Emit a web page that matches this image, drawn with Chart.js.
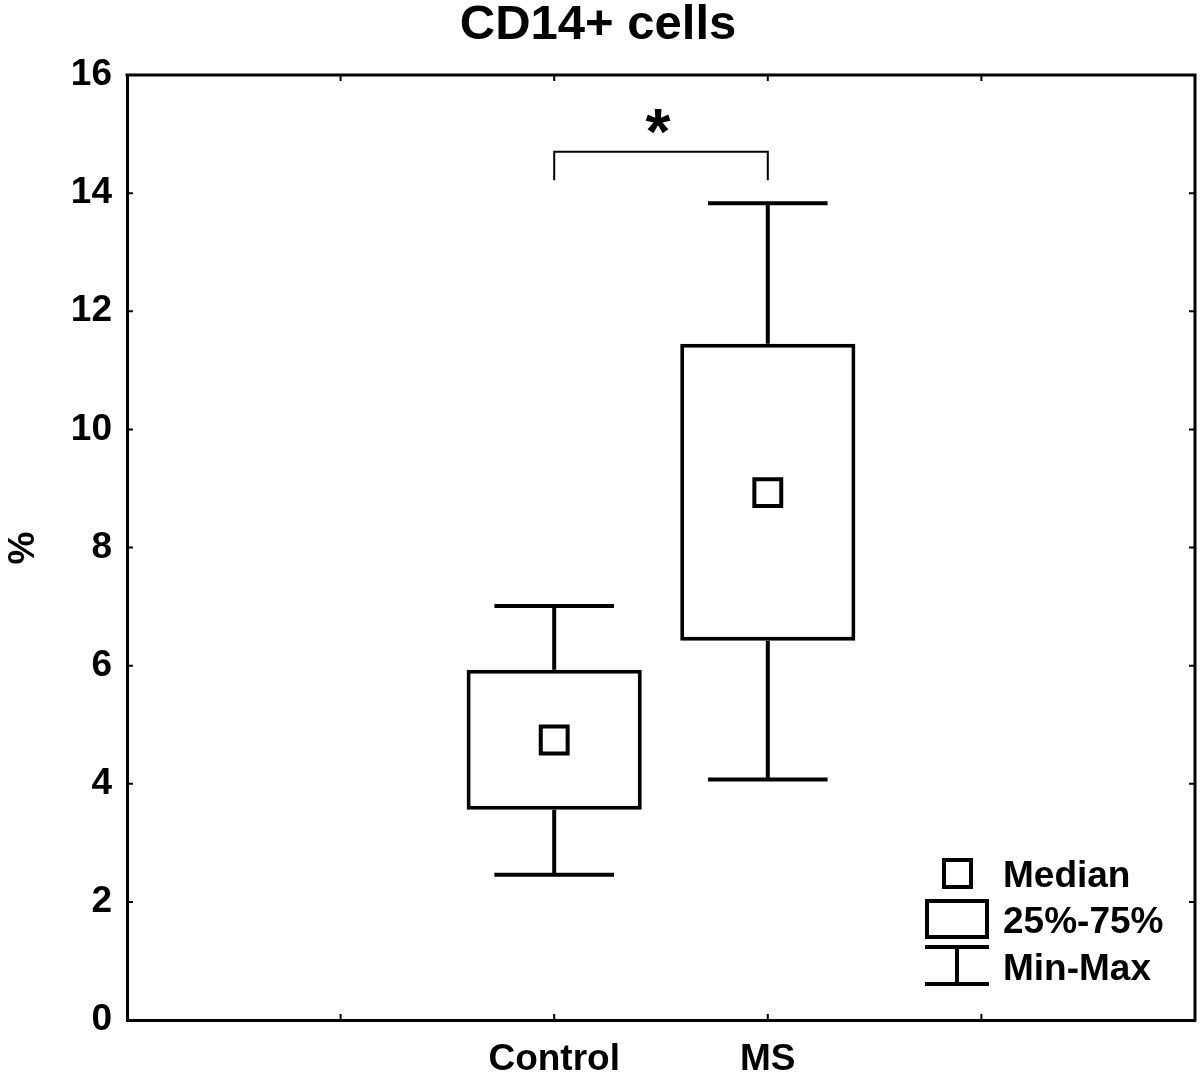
<!DOCTYPE html>
<html>
<head>
<meta charset="utf-8">
<script src="https://cdn.jsdelivr.net/npm/chart.js@4.4.1/dist/chart.umd.min.js"></script>
<style>
  html, body { margin: 0; padding: 0; background: #fff; }
  #wrap { width: 1200px; height: 1079px; }
</style>
</head>
<body>
<div id="wrap"><canvas id="chart" width="1200" height="1079"></canvas></div>
<script>
// box plot values (% CD14+ cells)
const groups = ['Control', 'MS'];
const groupPos = [2, 3];
const medians = [4.74, 8.93];
const q1 = [3.56, 6.42];
const q3 = [5.93, 11.45];
const mins = [2.46, 4.07];
const maxs = [7.01, 13.83];

// significance bracket between the two groups
const sigLevel = 14.7;
const sigDrop = 14.22;
const sigText = '*';

const legendItems = ['Median', '25%-75%', 'Min-Max'];

const FONT = '"Liberation Sans", Arial, Helvetica, sans-serif';
const CHART = document.getElementById('chart');

var boxData = groupPos.map(function (x, i) { return { x: x, y: [q1[i], q3[i]] }; });
var medianData = groupPos.map(function (x, i) { return { x: x, y: medians[i] }; });

const extras = {
  id: 'extras',
  beforeDatasetsDraw(chart) {
    const ctx = chart.ctx, xs = chart.scales.x, ys = chart.scales.y;
    ctx.save();
    ctx.strokeStyle = '#000';
    ctx.lineWidth = 4;
    ctx.lineCap = 'butt';
    for (let i = 0; i < groups.length; i++) {
      const cx = xs.getPixelForValue(groupPos[i]);
      const l = xs.getPixelForValue(groupPos[i] - 0.28);
      const r = xs.getPixelForValue(groupPos[i] + 0.28);
      const yMax = ys.getPixelForValue(maxs[i]);
      const yMin = ys.getPixelForValue(mins[i]);
      ctx.beginPath();
      ctx.moveTo(cx, yMax); ctx.lineTo(cx, ys.getPixelForValue(q3[i]));
      ctx.moveTo(cx, yMin); ctx.lineTo(cx, ys.getPixelForValue(q1[i]));
      ctx.moveTo(l, yMax); ctx.lineTo(r, yMax);
      ctx.moveTo(l, yMin); ctx.lineTo(r, yMin);
      ctx.stroke();
    }
    ctx.restore();
  },
  afterDraw(chart) {
    const ctx = chart.ctx, xs = chart.scales.x, ys = chart.scales.y;
    const a = chart.chartArea;
    ctx.save();
    ctx.strokeStyle = '#000';
    ctx.fillStyle = '#000';

    // top and right frame
    ctx.lineWidth = 3;
    ctx.beginPath();
    ctx.moveTo(a.left - 1.5, a.top);
    ctx.lineTo(a.right, a.top);
    ctx.lineTo(a.right, a.bottom + 1.5);
    ctx.stroke();

    // small inward ticks
    ctx.lineWidth = 2;
    ctx.beginPath();
    for (let v = 1; v <= 4; v++) {
      const px = xs.getPixelForValue(v);
      ctx.moveTo(px, a.bottom); ctx.lineTo(px, a.bottom - 6);
      ctx.moveTo(px, a.top); ctx.lineTo(px, a.top + 6);
    }
    for (let v = 2; v <= 14; v += 2) {
      const py = ys.getPixelForValue(v);
      ctx.moveTo(a.left, py); ctx.lineTo(a.left + 6, py);
      ctx.moveTo(a.right, py); ctx.lineTo(a.right - 6, py);
    }
    ctx.stroke();

    // title
    ctx.font = 'bold 49px ' + FONT;
    ctx.textAlign = 'center';
    ctx.textBaseline = 'alphabetic';
    ctx.fillText('CD14+ cells', 598, 39);

    // y axis title
    ctx.save();
    ctx.translate(24, 548);
    ctx.rotate(-Math.PI / 2);
    ctx.font = 'bold 37px ' + FONT;
    ctx.textBaseline = 'middle';
    ctx.fillText('%', 0, 0);
    ctx.restore();

    // significance bracket
    const bx1 = xs.getPixelForValue(groupPos[0]);
    const bx2 = xs.getPixelForValue(groupPos[1]);
    const by = ys.getPixelForValue(sigLevel);
    const bd = ys.getPixelForValue(sigDrop);
    ctx.lineWidth = 2;
    ctx.beginPath();
    ctx.moveTo(bx1, bd); ctx.lineTo(bx1, by); ctx.lineTo(bx2, by); ctx.lineTo(bx2, bd);
    ctx.stroke();
    ctx.font = 'bold 64px ' + FONT;
    ctx.textAlign = 'center';
    ctx.textBaseline = 'alphabetic';
    ctx.fillText(sigText, (bx1 + bx2) / 2 - 3, 154);

    // legend
    ctx.lineWidth = 4;
    ctx.strokeRect(944, 860, 27, 27);
    ctx.strokeRect(927, 901, 60, 36);
    ctx.beginPath();
    ctx.moveTo(925, 947); ctx.lineTo(989, 947);
    ctx.moveTo(957, 947); ctx.lineTo(957, 984);
    ctx.moveTo(925, 984); ctx.lineTo(989, 984);
    ctx.stroke();
    ctx.font = 'bold 37px ' + FONT;
    ctx.textAlign = 'left';
    ctx.fillText(legendItems[0], 1003, 887);
    ctx.fillText(legendItems[1], 1003, 933);
    ctx.fillText(legendItems[2], 1003, 980);
    ctx.restore();
  }
};

const chart = new Chart(CHART, {
  type: 'bar',
  data: {
    datasets: [
      {
        type: 'scatter',
        data: medianData,
        pointStyle: 'rect',
        pointRadius: 19,
        pointHoverRadius: 19,
        borderWidth: 4,
        borderColor: '#000',
        backgroundColor: '#fff',
        order: 0
      },
      {
        type: 'bar',
        data: boxData,
        backgroundColor: '#fff',
        borderColor: '#000',
        borderWidth: 4,
        borderSkipped: false,
        barPercentage: 0.82,
        categoryPercentage: 1,
        order: 1
      }
    ]
  },
  plugins: [extras],
  options: {
    responsive: false,
    animation: false,
    layout: { autoPadding: false, padding: { top: 75, right: 5, left: 0, bottom: 0 } },
    plugins: { legend: { display: false }, tooltip: { enabled: false } },
    scales: {
      x: {
        type: 'linear',
        offset: false,
        min: 0,
        max: 5,
        grid: { display: false, drawTicks: false, offset: false },
        border: { display: true, color: '#000', width: 3 },
        afterFit: function (s) { s.height = 59; s.paddingRight = 0; s.paddingLeft = 0; },
        ticks: {
          stepSize: 1,
          autoSkip: false,
          maxRotation: 0,
          padding: 18,
          color: '#000',
          font: { family: FONT, size: 37, weight: 'bold' },
          callback: function (v) {
            const i = groupPos.indexOf(v);
            return i >= 0 ? groups[i] : '';
          }
        }
      },
      y: {
        min: 0,
        max: 16,
        grid: { display: false, drawTicks: false },
        border: { display: true, color: '#000', width: 3 },
        afterFit: function (s) { s.width = 127; },
        ticks: {
          stepSize: 2,
          padding: 15,
          color: '#000',
          font: { family: FONT, size: 37, weight: 'bold' }
        }
      }
    }
  }
});
</script>
</body>
</html>
